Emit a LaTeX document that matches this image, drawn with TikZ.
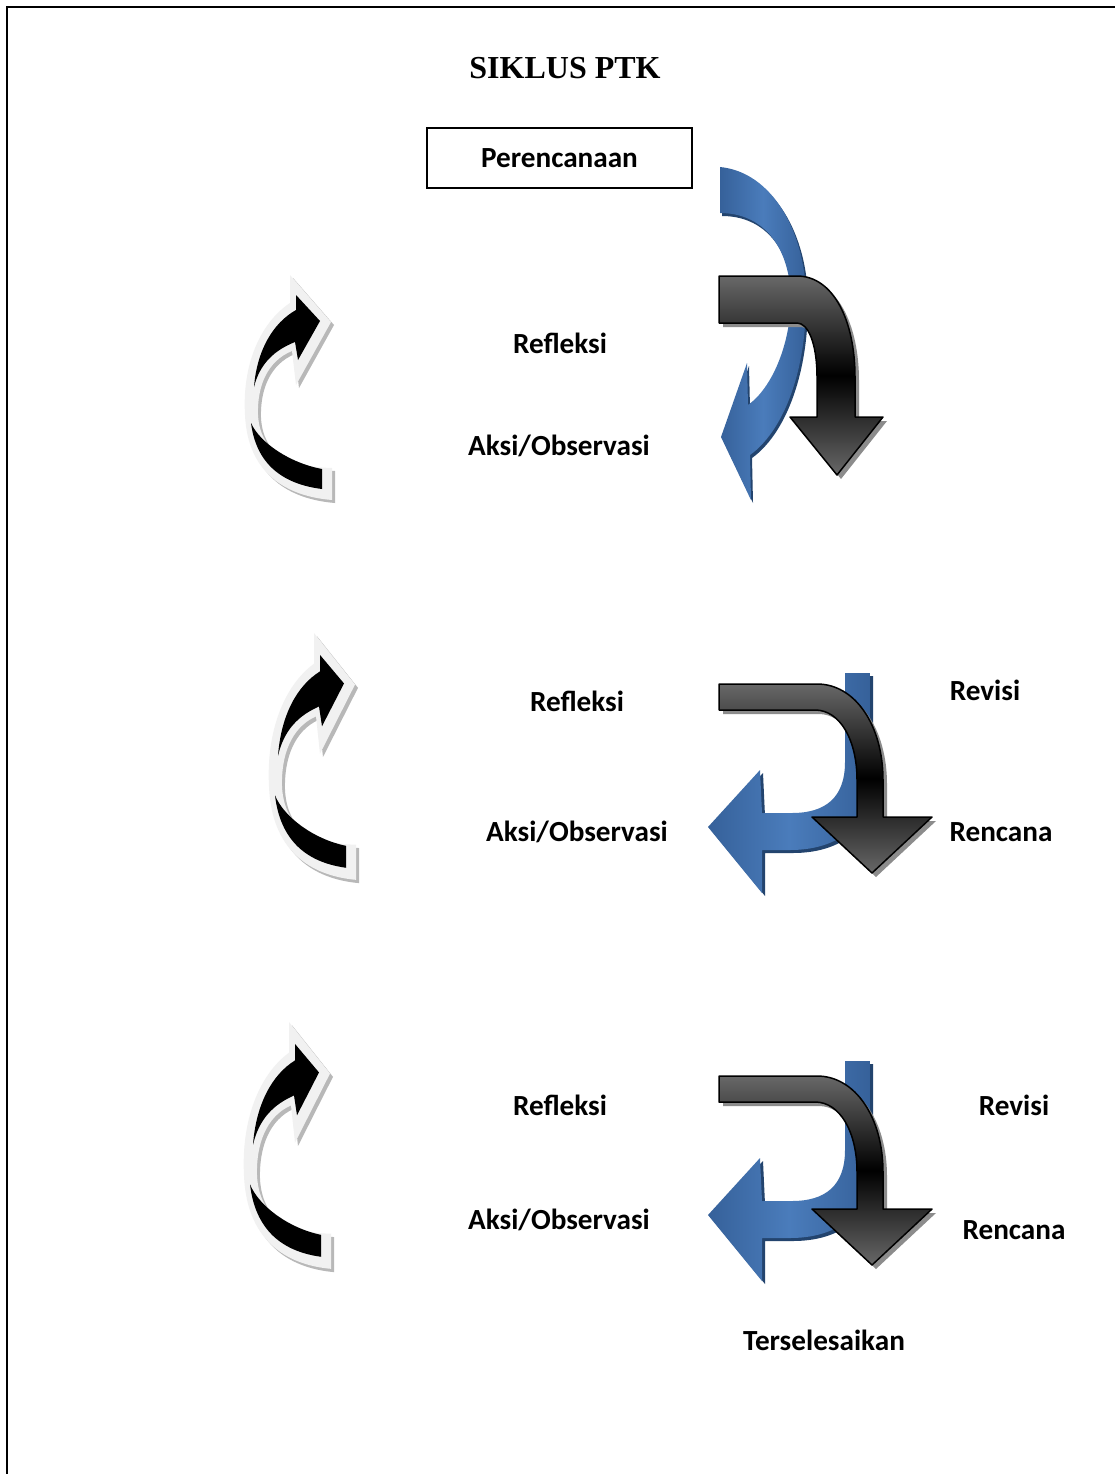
\documentclass[tikz,border=0pt]{standalone}
\usepackage{fontspec}
\setmainfont{Carlito}
\newfontfamily\titlefont{Liberation Serif}
\definecolor{blueD}{HTML}{36619A}
\definecolor{blueL}{HTML}{4A7CBB}
\definecolor{blueS}{HTML}{23446E}
\definecolor{grayA}{HTML}{686868}
\definecolor{shadowG}{HTML}{8C8C8C}
\definecolor{lightC}{HTML}{F1F1F1}
\definecolor{hatchC}{HTML}{B8B8B8}
\tikzset{
  lbl/.style={anchor=base, inner sep=0pt, font=\fontsize{29.2}{34}\selectfont\bfseries},
  ttl/.style={anchor=base, inner sep=0pt, font=\fontsize{32}{38}\selectfont\titlefont\bfseries},
  boxnode/.style={draw, line width=1.3pt, minimum width=265pt, minimum height=60pt, inner sep=0pt, font=\fontsize{29.2}{34}\selectfont\bfseries},
  blackarrow/.style={draw=black, line width=1.5pt, line join=round, top color=grayA, bottom color=grayA, middle color=black},
  bluearrow/.style={left color=blueD, right color=blueD, middle color=blueL},
  blueshadow/.style={fill=blueS},
  grayshadow/.style={fill=shadowG},
  pics/curlarrow/.style={code={
    \fill[hatchC, shift={(3,3)}] (87,225) .. controls (50,222) and (3,205) .. (0,140) .. controls (-3,90) and (15,48) .. (45,28) -- (45,0) -- (86,47) -- (51,110) -- (47,76) .. controls (22,86) and (12,112) .. (13,140) .. controls (15,175) and (40,192) .. (87,193) -- cycle;
    \fill[lightC] (87,225) .. controls (50,222) and (3,205) .. (0,140) .. controls (-3,90) and (15,48) .. (45,28) -- (45,0) -- (86,47) -- (51,110) -- (47,76) .. controls (22,86) and (12,112) .. (13,140) .. controls (15,175) and (40,192) .. (87,193) -- cycle;
    \fill[black] (9,112) .. controls (12,75) and (28,48) .. (51,35) -- (51,20) -- (75,46) -- (53,85) -- (50,67) .. controls (30,75) and (15,88) .. (9,112) -- cycle;
    \fill[black] (6,148) .. controls (15,168) and (45,188) .. (77,194) -- (77,214) .. controls (45,210) and (12,195) .. (6,148) -- cycle;
  }}
}
\def\blueone{(720,167) .. controls (772,172) and (806,232) .. (806,300) .. controls (806,375) and (782,432) .. (750,455) -- (751,500) -- (721,437) -- (747,363) -- (748,405) .. controls (772,388) and (790,345) .. (791,300) .. controls (790,245) and (762,213) .. (720,213) -- cycle}
\def\blackone{(719,276) -- (797,276) .. controls (833,276) and (855,320) .. (855,377) -- (855,417) -- (883,417) -- (837,475) -- (790,417) -- (817,417) -- (817,377) .. controls (817,343) and (808,323) .. (797,323) -- (719,323) -- cycle}
\def\bluetwo{(845,673) -- (870,673) -- (870,780) .. controls (870,828) and (835,850) .. (790,850) -- (762,850) -- (762,893) -- (708,827) -- (760,770) -- (762,813) -- (792,813) .. controls (825,813) and (845,798) .. (845,762) -- cycle}
\def\blacktwo{(719,684) -- (817,684) .. controls (855,684) and (883,725) .. (883,780) -- (883,817) -- (932,817) -- (872,873) -- (812,817) -- (857,817) -- (857,780) .. controls (857,740) and (840,710) .. (815,710) -- (719,710) -- cycle}
\begin{document}
\begin{tikzpicture}[x=1pt,y=-1pt]
\useasboundingbox (0,0) rectangle (1115,1474);
\fill[white] (0,0) rectangle (1115,1474);
% page frame
\draw[line width=1.6pt] (7,1480) -- (7,7) -- (1120,7);
% title and start box
\node[ttl] (title) at (565,79) {SIKLUS PTK};
\node[boxnode] (plan) at (559.5,158) {Perencanaan};
% cycle 1
\pic at (245,275) {curlarrow};
\node[lbl] (ref1) at (560,353) {Refleksi};
\node[lbl] (aksi1) at (559,455) {Aksi/Observasi};
\fill[blueshadow, shift={(2,3)}] \blueone;
\path[bluearrow] \blueone;
\fill[grayshadow, shift={(4,4)}] \blackone;
\path[blackarrow] \blackone;
% cycle 2
\pic[yscale=1.097] at (269,633) {curlarrow};
\node[lbl] (ref2) at (577,711) {Refleksi};
\node[lbl] (aksi2) at (577,841) {Aksi/Observasi};
\node[lbl] (rev2) at (985,700) {Revisi};
\node[lbl] (ren2) at (1001,841) {Rencana};
\fill[blueshadow, shift={(3,3)}] \bluetwo;
\path[bluearrow] \bluetwo;
\fill[grayshadow, shift={(4,4)}] \blacktwo;
\path[blackarrow] \blacktwo;
% cycle 3
\pic[yscale=1.097] at (244,1022) {curlarrow};
\node[lbl] (ref3) at (560,1115) {Refleksi};
\node[lbl] (aksi3) at (559,1229) {Aksi/Observasi};
\node[lbl] (rev3) at (1014,1115) {Revisi};
\node[lbl] (ren3) at (1014,1239) {Rencana};
\node[lbl] (done) at (824,1350) {Terselesaikan};
\begin{scope}[shift={(0,388)}]
\fill[blueshadow, shift={(3,3)}] \bluetwo;
\path[bluearrow] \bluetwo;
\end{scope}
\begin{scope}[shift={(0,392)}]
\fill[grayshadow, shift={(4,4)}] \blacktwo;
\path[blackarrow] \blacktwo;
\end{scope}
\end{tikzpicture}
\end{document}
